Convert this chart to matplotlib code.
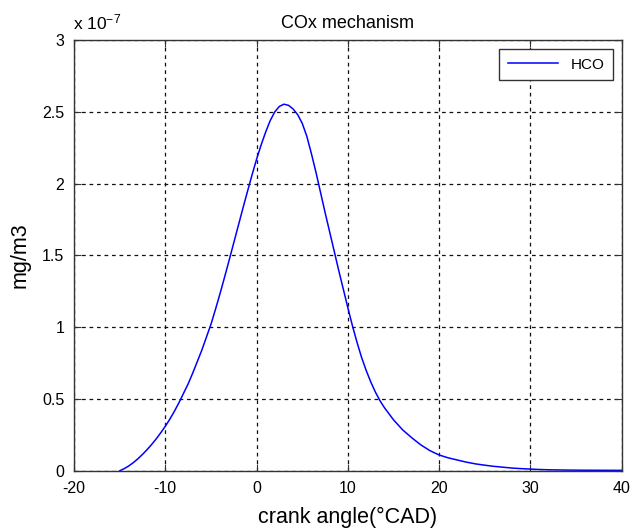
import matplotlib
matplotlib.use("Agg")
import matplotlib.pyplot as plt

plt.rcParams['font.family'] = ['Liberation Sans', 'DejaVu Sans']
plt.rcParams['axes.unicode_minus'] = False
plt.rcParams['mathtext.default'] = 'regular'

crank_angle = [-15, -14.5, -14, -13.5, -13, -12.5, -12, -11.5, -11, -10.5, -10, -9.5, -9,
               -8.5, -8, -7.5, -7, -6.5, -6, -5.5, -5, -4.5, -4, -3.5, -3, -2.5, -2, -1.5,
               -1, -0.5, 0, 0.5, 1, 1.5, 2, 2.5, 3, 3.5, 4, 4.5, 5, 5.5, 6, 6.5, 7, 7.5,
               8, 8.5, 9, 9.5, 10, 10.5, 11, 11.5, 12, 12.5, 13, 13.5, 14, 15, 16, 17, 18,
               19, 20, 21, 22, 23, 24, 25, 26, 27, 28, 29, 30, 31, 32, 34, 36, 38, 40]
hco = [0.0, 0.015, 0.034, 0.057, 0.084, 0.114, 0.147, 0.183, 0.222, 0.265, 0.31, 0.36,
       0.415, 0.475, 0.54, 0.605, 0.68, 0.76, 0.84, 0.93, 1.02, 1.125, 1.235, 1.35, 1.468,
       1.588, 1.708, 1.828, 1.945, 2.06, 2.17, 2.27, 2.36, 2.44, 2.50, 2.538, 2.553,
       2.545, 2.52, 2.48, 2.42, 2.33, 2.21, 2.08, 1.94, 1.80, 1.665, 1.53, 1.395, 1.265,
       1.135, 1.01, 0.895, 0.79, 0.70, 0.62, 0.55, 0.49, 0.44, 0.355, 0.285, 0.23, 0.18,
       0.14, 0.11, 0.09, 0.075, 0.06, 0.048, 0.039, 0.031, 0.025, 0.019, 0.015, 0.012,
       0.009, 0.007, 0.005, 0.004, 0.0035, 0.003]
hco = [v * 1e-7 for v in hco]

x_ticks = [-20, -10, 0, 10, 20, 30, 40]
y_ticks = [0, 0.5e-7, 1e-7, 1.5e-7, 2e-7, 2.5e-7, 3e-7]
y_tick_labels = ['0', '0.5', '1', '1.5', '2', '2.5', '3']

fig = plt.figure(figsize=(6.31, 5.30), dpi=100)
ax = fig.add_axes([0.1173, 0.1117, 0.8680, 0.8128])

ax.plot(crank_angle, hco, color='#0000ff', linewidth=1.1, label='HCO')

ax.set_xlim(-20, 40)
ax.set_ylim(0, 3e-7)
ax.set_xticks(x_ticks)
ax.set_yticks(y_ticks)
ax.set_yticklabels(y_tick_labels)
ax.tick_params(direction='in', labelsize=11.5, length=5, color='#333333', pad=7,
               top=True, right=True)

ax.grid(True, color='#111111', linestyle=(0, (3, 3)), linewidth=0.9)
for s in ax.spines.values():
    s.set_color('#333333')
    s.set_linewidth(1.0)

ax.set_title('COx mechanism', fontsize=13, pad=9)
ax.set_xlabel('crank angle(°CAD)', fontsize=15.5, labelpad=8)
ax.set_ylabel('mg/m3', fontsize=15.5, labelpad=8)

ax.text(-0.002, 1.018, 'x 10$^{-7}$', transform=ax.transAxes, fontsize=12.5,
        ha='left', va='bottom')

leg = ax.legend(loc='upper right', fontsize=11, fancybox=False, framealpha=1,
                edgecolor='#333333', handlelength=3.3, borderaxespad=0.6,
                borderpad=0.55)
leg.get_frame().set_linewidth(1.0)

fig.savefig('out.png', dpi=100)
